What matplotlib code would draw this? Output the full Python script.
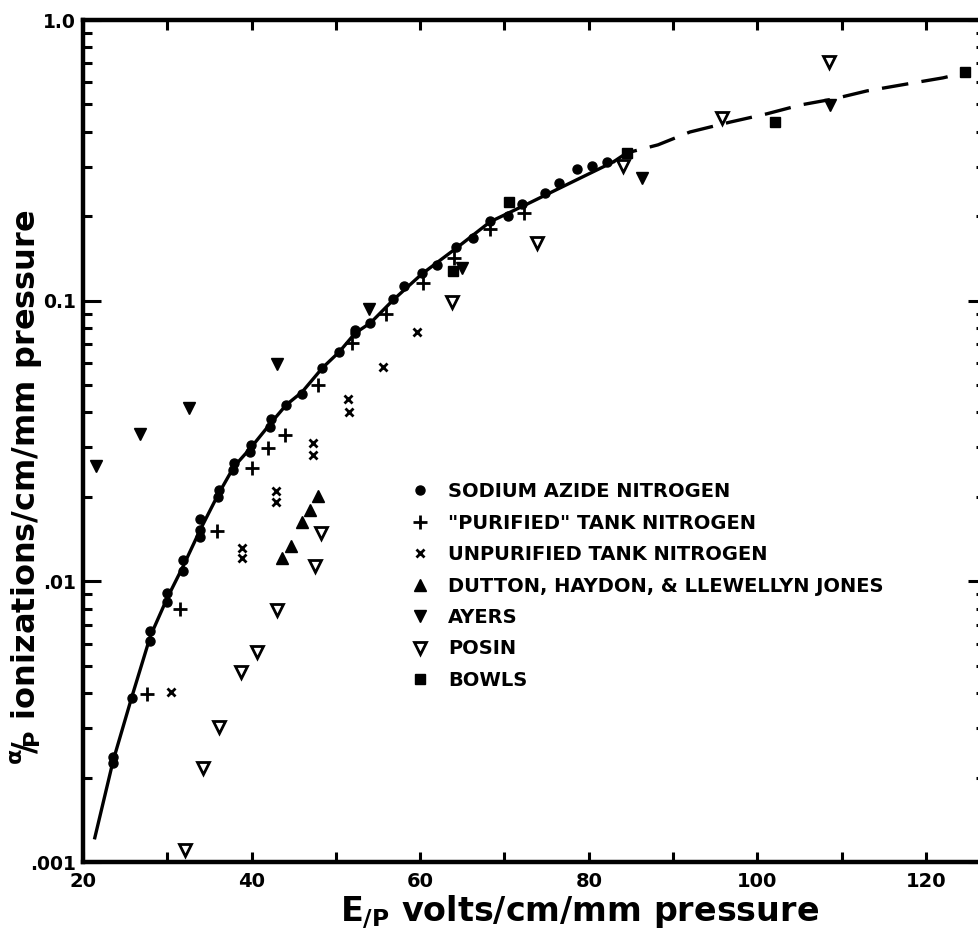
import matplotlib
matplotlib.use("Agg")
import matplotlib.pyplot as plt
from matplotlib.ticker import LogLocator, NullFormatter

plt.rcParams["font.family"] = ["DejaVu Sans"]
plt.rcParams["font.weight"] = "bold"
plt.rcParams["mathtext.fontset"] = "custom"
plt.rcParams["mathtext.rm"] = "DejaVu Sans:bold"
plt.rcParams["mathtext.it"] = "DejaVu Sans:bold"
plt.rcParams["mathtext.bf"] = "DejaVu Sans:bold"

# --- data (E/p, alpha/p) ---
azide_x = [23.6, 23.6, 25.8, 28.0, 28.0, 30.0, 30.0, 31.9, 31.9, 33.9, 33.9, 33.9,
           36.1, 36.0, 37.9, 37.8, 39.9, 39.8, 42.3, 42.2, 44.1, 46.0, 48.4, 50.4,
           52.3, 52.3, 54.1, 56.8, 58.1, 60.2, 62.0, 64.3, 66.3, 68.3, 70.4, 72.1,
           74.8, 76.5, 78.6, 80.4, 82.2]
azide_y = [0.00237, 0.00225, 0.00384, 0.00666, 0.00613, 0.00909, 0.00845, 0.0119,
           0.0109, 0.0167, 0.01525, 0.0144, 0.0212, 0.0200, 0.0264, 0.0249, 0.0306,
           0.0289, 0.0379, 0.0355, 0.0425, 0.0465, 0.0576, 0.0657, 0.0786, 0.0767,
           0.0833, 0.101, 0.113, 0.1255, 0.134, 0.155, 0.167, 0.192, 0.200, 0.221,
           0.242, 0.263, 0.295, 0.302, 0.312]

purified_x = [27.6, 31.5, 35.9, 40.1, 42.0, 44.0, 47.9, 51.9, 55.9, 60.3, 64.0, 68.3, 72.3]
purified_y = [0.00397, 0.00797, 0.0151, 0.0254, 0.0299, 0.0332, 0.0501, 0.0707,
              0.0897, 0.1156, 0.142, 0.180, 0.205]

unpurified_x = [30.4, 38.9, 38.9, 42.9, 42.9, 47.3, 47.3, 51.4, 51.6, 55.6, 59.6]
unpurified_y = [0.00404, 0.01315, 0.0121, 0.0210, 0.0192, 0.0311, 0.0282, 0.0447,
                0.0401, 0.0580, 0.0774]

dutton_x = [43.6, 44.7, 46.0, 46.9, 47.9]
dutton_y = [0.0121, 0.0134, 0.0163, 0.0180, 0.0202]

ayers_x = [21.5, 26.8, 32.6, 43.0, 53.9, 65.0, 86.3, 108.6]
ayers_y = [0.0258, 0.0335, 0.0415, 0.0595, 0.0934, 0.131, 0.274, 0.498]

posin_x = [32.1, 34.2, 36.1, 38.7, 40.6, 43.0, 47.5, 48.2, 63.8, 73.9, 84.1, 95.8, 108.5]
posin_y = [0.00110, 0.00216, 0.00303, 0.00476, 0.00560, 0.00791, 0.01135, 0.0149,
           0.0989, 0.161, 0.302, 0.448, 0.708]

bowls_x = [63.9, 70.5, 84.5, 102.1, 124.6]
bowls_y = [0.1276, 0.2247, 0.3358, 0.433, 0.653]

# drawn curve: solid over the measured range, dashed extrapolation
curve_x = [21.4, 23.6, 25.8, 28.0, 30.0, 31.9, 33.9, 36.0, 37.9, 39.9, 42.3, 44.1,
           46.0, 48.4, 50.4, 52.3, 54.1, 56.8, 60.2, 64.3, 68.3, 72.7, 78.5, 82.9]
curve_y = [0.00122, 0.00231, 0.00388, 0.00639, 0.00873, 0.01135, 0.01525, 0.0203,
           0.0256, 0.0299, 0.0367, 0.0425, 0.0473, 0.0576, 0.0657, 0.0767, 0.0833,
           0.1006, 0.1245, 0.154, 0.191, 0.221, 0.269, 0.312]
dash_x = [82.9, 84.5, 88.2, 92.0, 96.8, 101.1, 105.1, 109.0, 113.0, 117.8, 122.0, 125.0]
dash_y = [0.312, 0.336, 0.359, 0.399, 0.433, 0.463, 0.498, 0.523, 0.559, 0.592, 0.622, 0.653]

x_ticks = [20, 30, 40, 50, 60, 70, 80, 90, 100, 110, 120]
x_ticklabels = ["20", "", "40", "", "60", "", "80", "", "100", "", "120"]
y_ticks = [0.001, 0.01, 0.1, 1.0]
y_ticklabels = [".001", ".01", "0.1", "1.0"]

labels = ["SODIUM AZIDE NITROGEN", '"PURIFIED" TANK NITROGEN',
          "UNPURIFIED TANK NITROGEN", "DUTTON, HAYDON, & LLEWELLYN JONES",
          "AYERS", "POSIN", "BOWLS"]

fig = plt.figure(figsize=(9.79, 9.46), dpi=100)
ax = fig.add_axes([83 / 979, 84 / 946, 897 / 979, 842 / 946])
ax.set_yscale("log")

ax.plot(curve_x, curve_y, color="k", lw=2.4, zorder=2)
ax.plot(dash_x, dash_y, color="k", lw=2.4, dashes=(8, 4), zorder=2)

k = dict(ls="none", color="k", zorder=3)
h1, = ax.plot(azide_x, azide_y, marker="o", ms=6.5, **k)
h2, = ax.plot(purified_x, purified_y, marker="+", ms=10, mew=2.0, **k)
h3, = ax.plot(unpurified_x, unpurified_y, marker="x", ms=5.5, mew=2.0, **k)
h4, = ax.plot(dutton_x, dutton_y, marker="^", ms=8, **k)
h5, = ax.plot(ayers_x, ayers_y, marker="v", ms=8, **k)
h6, = ax.plot(posin_x, posin_y, marker="v", ms=8, mfc="white", mec="k", mew=2.0, **k)
h7, = ax.plot(bowls_x, bowls_y, marker="s", ms=7, **k)

ax.set_xlim(20, 20 + 897 / 8.43)
ax.set_ylim(0.001, 1.0)

ax.set_xticks(x_ticks, x_ticklabels)
ax.set_yticks(y_ticks, y_ticklabels)
ax.yaxis.set_minor_locator(LogLocator(base=10, subs=range(2, 10)))
ax.yaxis.set_minor_formatter(NullFormatter())
ax.tick_params(axis="x", which="major", direction="in", top=True, length=7,
               width=2.2, labelsize=14, pad=7)
ax.tick_params(axis="y", which="major", direction="in", length=13, width=2.2,
               labelsize=13.5, pad=5, right=False)
ax.tick_params(axis="y", which="minor", direction="in", length=6.5, width=2.2,
               right=False)
for s in ax.spines.values():
    s.set_linewidth(3.2)

# right-hand scale: shorter ticks, no labels
ax2 = ax.twinx()
ax2.set_yscale("log")
ax2.set_ylim(ax.get_ylim())
ax2.set_yticks(y_ticks, [""] * len(y_ticks))
ax2.yaxis.set_minor_locator(LogLocator(base=10, subs=range(2, 10)))
ax2.yaxis.set_minor_formatter(NullFormatter())
ax2.tick_params(axis="y", which="major", direction="in", length=8.5, width=2.2)
ax2.tick_params(axis="y", which="minor", direction="in", length=3, width=2.2)
for s in ax2.spines.values():
    s.set_visible(False)

ax.legend([h1, h2, h3, h4, h5, h6, h7], labels, loc="upper left",
          bbox_to_anchor=(0.366, 0.451), frameon=False,
          prop=dict(size=14, weight="bold"), handlelength=0.9,
          handletextpad=1.0, labelspacing=0.64, borderpad=0, borderaxespad=0,
          numpoints=1)

fig.text(27 / 979, 1 - 487 / 946, r"$^{\alpha}\!/\!_{P}$ ionizations/cm/mm pressure",
         rotation=90, ha="center", va="center", fontsize=23, fontweight="bold")
fig.text(580 / 979, 1 - 912 / 946, r"$E_{/P}$ volts/cm/mm pressure",
         ha="center", va="center", fontsize=24, fontweight="bold")

fig.savefig("out.png", dpi=100)
